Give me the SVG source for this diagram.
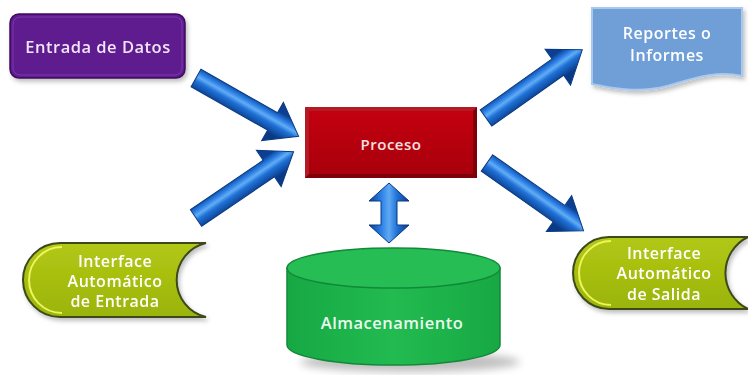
<svg xmlns="http://www.w3.org/2000/svg" xmlns:xlink="http://www.w3.org/1999/xlink" width="748" height="375" viewBox="0 0 748 375">
  <defs>
    <style>
      .lbl { font-family: "Open Sans", "Noto Sans", "DejaVu Sans", sans-serif; font-weight: 600; text-anchor: middle; letter-spacing: 0.5px; }
      .arrow { fill: url(#arrowGrad); stroke: #0a3a82; stroke-width: 1; }
    </style>
    <!-- bevelled blue shaft shading across the arrow width -->
    <linearGradient id="arrowGrad" gradientUnits="userSpaceOnUse" x1="0" y1="-12" x2="0" y2="12">
      <stop offset="0" stop-color="#0c3f92"/>
      <stop offset="0.25" stop-color="#2a7fe6"/>
      <stop offset="0.42" stop-color="#63acf4"/>
      <stop offset="0.6" stop-color="#1f72d8"/>
      <stop offset="1" stop-color="#0a3a86"/>
    </linearGradient>
    <linearGradient id="vGrad" x1="0" y1="0" x2="1" y2="0">
      <stop offset="0" stop-color="#0c3f92"/>
      <stop offset="0.3" stop-color="#2a7fe6"/>
      <stop offset="0.5" stop-color="#5fa9f2"/>
      <stop offset="0.7" stop-color="#1f72d8"/>
      <stop offset="1" stop-color="#0a3a86"/>
    </linearGradient>
    <linearGradient id="procGrad" x1="0" y1="0" x2="0" y2="1">
      <stop offset="0" stop-color="#c4000f"/>
      <stop offset="1" stop-color="#a8000c"/>
    </linearGradient>
    <linearGradient id="limeGrad" x1="0" y1="0" x2="0" y2="1">
      <stop offset="0" stop-color="#b2c816"/>
      <stop offset="1" stop-color="#9bb408"/>
    </linearGradient>
    <linearGradient id="cylGrad" x1="0" y1="0" x2="1" y2="0">
      <stop offset="0" stop-color="#17a844"/>
      <stop offset="0.5" stop-color="#22bb50"/>
      <stop offset="1" stop-color="#17a844"/>
    </linearGradient>
    <filter id="shadow" x="-10%" y="-10%" width="130%" height="140%">
      <feDropShadow dx="2" dy="3" stdDeviation="2" flood-color="#000" flood-opacity="0.25"/>
    </filter>
    <filter id="soft" x="-20%" y="-50%" width="140%" height="200%">
      <feGaussianBlur stdDeviation="4"/>
    </filter>
    <!-- straight arrow, 118 long, pointing along +x -->
    <path id="arrow" class="arrow" d="M0,-10 L88,-10 L88,-22 L118,0 L88,22 L88,10 L0,10 Z"/>
  </defs>

  <rect width="748" height="375" fill="#ffffff"/>

  <g id="connectors">
    <use xlink:href="#arrow" href="#arrow" transform="translate(196,78) rotate(29.6)"/>
    <use xlink:href="#arrow" href="#arrow" transform="translate(196,218) rotate(-34.2)"/>
    <use xlink:href="#arrow" href="#arrow" transform="translate(486,118) rotate(-35.3)"/>
    <use xlink:href="#arrow" href="#arrow" transform="translate(487,163) rotate(35.1)"/>
    <path d="M389,183 L409,201 L397,201 L397,225 L409,225 L389,243 L369,225 L381,225 L381,201 L369,201 Z" fill="url(#vGrad)" stroke="#0a3a82" stroke-width="1"/>
  </g>

  <g id="entrada-datos" filter="url(#shadow)">
    <rect x="10" y="14" width="175" height="64" rx="9" fill="#5f1a8e" stroke="#3c0d5e" stroke-width="1.5"/>
    <rect x="13" y="17" width="169" height="58" rx="7" fill="none" stroke="#7d3bb0" stroke-width="1"/>
    <text class="lbl" x="98" y="53" font-size="16.5" fill="#f1e6f8">Entrada de Datos</text>
  </g>

  <g id="reportes" filter="url(#shadow)">
    <path d="M592,8 H742 V76 C715,70 692,79 667,86 C640,93 615,89 592,84 Z" fill="#6f9fd8" stroke="#a9c8ee" stroke-width="2"/>
    <text class="lbl" x="667" y="39" font-size="16" fill="#ffffff">Reportes o</text>
    <text class="lbl" x="667" y="61" font-size="16" fill="#ffffff">Informes</text>
  </g>

  <g id="proceso">
    <rect x="305" y="107" width="172" height="71" fill="#7e0008"/>
    <rect x="309" y="111" width="164" height="63" fill="url(#procGrad)"/>
    <path d="M305,107 H477 L473,111 H309 V174 L305,178 Z" fill="#e0303a" opacity="0.55"/>
    <text class="lbl" x="391" y="150" font-size="15" fill="#f8e0e0">Proceso</text>
  </g>

  <g id="almacenamiento">
    <ellipse cx="410" cy="362" rx="110" ry="10" fill="#000" opacity="0.25" filter="url(#soft)"/>
    <path d="M287,268 V345 A106.5,20 0 0 0 500,345 V268 Z" fill="url(#cylGrad)" stroke="#12893a" stroke-width="1.5"/>
    <ellipse cx="393.5" cy="268" rx="106.5" ry="20" fill="#26bd55" stroke="#12893a" stroke-width="1.5"/>
    <text class="lbl" x="392" y="329" font-size="16.5" fill="#e9fbef">Almacenamiento</text>
  </g>

  <g id="interface-entrada" filter="url(#shadow)">
    <path d="M60,243 H206 A38,38 0 0 0 206,317 H60 A37,37 0 0 1 60,243 Z" fill="url(#limeGrad)" stroke="#3c4a1c" stroke-width="2"/>
    <path d="M62,247 A33,33 0 0 0 62,313" fill="none" stroke="#eef45a" stroke-width="2"/>
    <text class="lbl" x="115" y="267" font-size="16" fill="#ffffff">Interface</text>
    <text class="lbl" x="115" y="287" font-size="16" fill="#ffffff">Automático</text>
    <text class="lbl" x="115" y="307" font-size="16" fill="#ffffff">de Entrada</text>
  </g>

  <g id="interface-salida" filter="url(#shadow)">
    <path d="M609,237 H748 A40,40 0 0 0 748,309 H609 A36,36 0 0 1 609,237 Z" fill="url(#limeGrad)" stroke="#3c4a1c" stroke-width="2"/>
    <path d="M611,241 A32,32 0 0 0 611,305" fill="none" stroke="#eef45a" stroke-width="2"/>
    <text class="lbl" x="664" y="259" font-size="16" fill="#ffffff">Interface</text>
    <text class="lbl" x="664" y="279" font-size="16" fill="#ffffff">Automático</text>
    <text class="lbl" x="664" y="300" font-size="16" fill="#ffffff">de Salida</text>
  </g>
</svg>
